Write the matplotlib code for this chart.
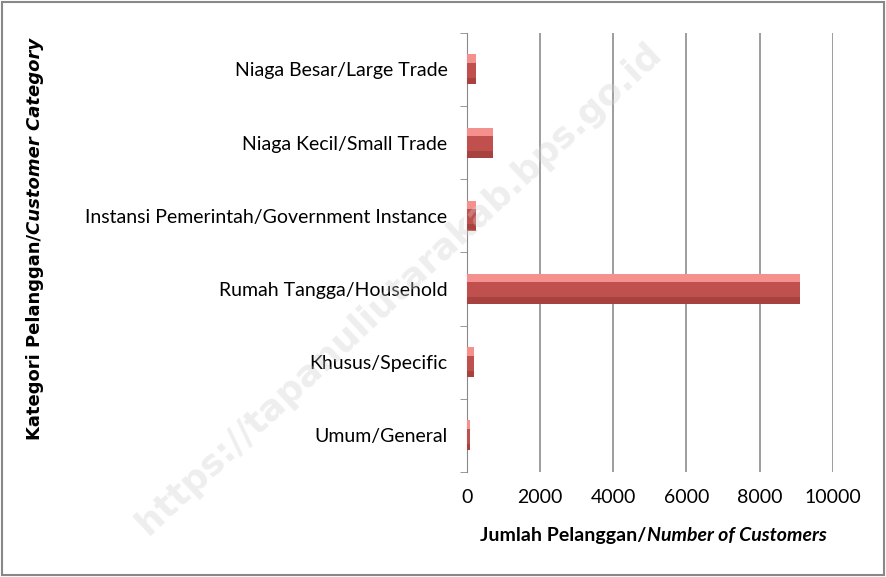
import matplotlib.pyplot as plt
import numpy as np

categories = ["Umum/General", "Khusus/Specific", "Rumah Tangga/Household",
              "Instansi Pemerintah/Government Instance",
              "Niaga Kecil/Small Trade", "Niaga Besar/Large Trade"]
customers = [80, 180, 9100, 235, 700, 235]
xticks = [0, 2000, 4000, 6000, 8000, 10000]

font = ["Lato", "DejaVu Sans"]

fig = plt.figure(figsize=(8.86, 5.77), dpi=100)
ax = fig.add_axes([0.527, 0.182, 0.413, 0.761])

y = np.arange(len(categories))
h = 0.41
ax.barh(y, customers, height=h, color="#c0504d", zorder=3)
# bevel: light top strip, darker bottom strip
ax.barh(y + h * 0.36, customers, height=h * 0.28, color="#f4918f", zorder=4)
ax.barh(y - h * 0.39, customers, height=h * 0.22, color="#a8423f", zorder=4)

ax.set_xlim(0, 10000)
ax.set_ylim(-0.5, len(categories) - 0.5)
ax.set_xticks(xticks)
ax.set_xticklabels([str(t) for t in xticks], family=font, fontsize=14)
ax.set_yticks(y)
ax.set_yticklabels(categories, family=font, fontsize=14)
ax.set_yticks(np.arange(-0.5, len(categories)), minor=True)
ax.tick_params(axis="y", which="major", length=0, pad=14)
ax.tick_params(axis="y", which="minor", length=5, color="#888888")
ax.tick_params(axis="x", length=0, pad=12)
ax.grid(axis="x", color="#8c8c8c", linewidth=1.2, zorder=0)
for s in ["top", "right", "bottom"]:
    ax.spines[s].set_visible(False)
ax.spines["left"].set_color("#888888")

fig.text(0.730, 0.072, "Jumlah Pelanggan/", family=font, fontsize=14,
         fontweight="bold", ha="right", va="center")
fig.text(0.730, 0.072, "Number of Customers", family=font, fontsize=14,
         fontweight="bold", style="italic", ha="left", va="center")

fig.text(0.04, 0.595, "Kategori Pelanggan/", fontsize=13, fontweight="bold",
         rotation=90, ha="center", va="top")
fig.text(0.04, 0.595, "Customer Category", fontsize=13, fontweight="bold",
         style="italic", rotation=90, ha="center", va="bottom")

fig.text(0.45, 0.5, "https://tapanuliutarakab.bps.go.id", fontsize=26,
         fontweight="bold", color="#d0d0d0", alpha=0.35, rotation=43,
         ha="center", va="center", zorder=0)

fig.patches.append(plt.Rectangle((0.002, 0.003), 0.996, 0.994, transform=fig.transFigure,
                                 fill=False, edgecolor="#888888", linewidth=1.5))

fig.savefig("out.png", dpi=100)
